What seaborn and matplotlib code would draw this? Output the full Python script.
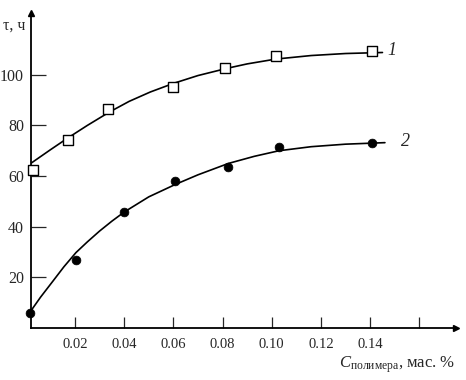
import matplotlib
matplotlib.use("Agg")
import matplotlib.pyplot as plt
import seaborn as sns

# measured points, curve 1 (squares) and curve 2 (dots)
c1_x = [0.003, 0.017, 0.0335, 0.060, 0.081, 0.1016, 0.1408]
c1_y = [62.5, 74.2, 86.5, 95.0, 102.8, 107.5, 109.4]
c2_x = [0.0018, 0.0204, 0.040, 0.0608, 0.0824, 0.1029, 0.1408]
c2_y = [5.9, 26.8, 45.8, 58.0, 63.4, 71.3, 73.0]

# smooth fitted curves
fit1_x = [0.002, 0.010, 0.017, 0.025, 0.034, 0.042, 0.0506, 0.060, 0.070,
          0.082, 0.090, 0.1016, 0.116, 0.130, 0.145]
fit1_y = [65.0, 70.4, 75.0, 80.0, 85.3, 89.5, 93.2, 96.6, 99.7,
          102.6, 104.3, 106.2, 107.6, 108.4, 108.8]
fit2_x = [0.0015, 0.006, 0.011, 0.0155, 0.0204, 0.025, 0.030, 0.035, 0.040,
          0.050, 0.0608, 0.070, 0.0824, 0.0929, 0.1029, 0.116, 0.130, 0.146]
fit2_y = [6.0, 12.2, 18.5, 24.2, 29.8, 34.0, 38.3, 42.2, 45.8,
          51.8, 56.7, 60.5, 65.0, 67.8, 70.0, 71.6, 72.6, 73.2]

xticks = [0.02, 0.04, 0.06, 0.08, 0.10, 0.12, 0.14, 0.16]
xtick_labels = ["0.02", "0.04", "0.06", "0.08", "0.10", "0.12", "0.14", ""]
yticks = [20, 40, 60, 80, 100]

sns.set_style("white")
plt.rcParams["font.family"] = ["Liberation Serif", "DejaVu Serif"]
plt.rcParams["mathtext.fontset"] = "custom"
plt.rcParams["mathtext.rm"] = "Liberation Serif"
plt.rcParams["mathtext.it"] = "Liberation Serif:italic"

fig = plt.figure(figsize=(4.66, 3.80), dpi=100)
ax = fig.add_axes([31 / 466, 52 / 380, 425 / 466, 315 / 380])

sns.lineplot(x=fit1_x, y=fit1_y, color="black", linewidth=1.2, ax=ax, sort=False)
sns.lineplot(x=fit2_x, y=fit2_y, color="black", linewidth=1.2, ax=ax, sort=False)
sns.scatterplot(x=c1_x, y=c1_y, marker="s", s=55, facecolor="white",
                edgecolor="black", linewidth=1.0, ax=ax, zorder=3, clip_on=False)
sns.scatterplot(x=c2_x, y=c2_y, marker="o", s=40, color="black",
                edgecolor="black", ax=ax, zorder=3, clip_on=False)

ax.set_xlim(0.0021, 0.1749)
ax.set_ylim(0, 124.4)

for side in ["top", "right"]:
    ax.spines[side].set_visible(False)
for side in ["left", "bottom"]:
    ax.spines[side].set_linewidth(1.3)
    ax.spines[side].set_color("black")

# arrow heads on the axes
ax.plot(1, 0, ">k", markersize=5, transform=ax.transAxes, clip_on=False)
ax.plot(0, 1, "^k", markersize=5, transform=ax.transAxes, clip_on=False)

ax.set_xticks(xticks)
ax.set_xticklabels(xtick_labels)
ax.set_yticks(yticks)
ax.tick_params(axis="x", direction="in", length=8, width=0.9, labelsize=10.5, pad=7,
               bottom=True)
ax.tick_params(axis="y", direction="in", length=11, width=0.9, labelsize=11.5, pad=5,
               left=True)

ax.text(-0.065, 0.985, "τ, ч", transform=ax.transAxes, fontsize=11.5,
        ha="left", va="top")
fig.text(455 / 466, 5 / 380, r"$C_{\mathrm{полимера}}$, мас. %", fontsize=12,
         ha="right", va="bottom")

ax.text(0.1470, 109.5, "1", fontsize=13, style="italic", va="center", ha="left")
ax.text(0.1525, 73.5, "2", fontsize=13, style="italic", va="center", ha="left")

fig.savefig("out.png", dpi=100, facecolor="white")
